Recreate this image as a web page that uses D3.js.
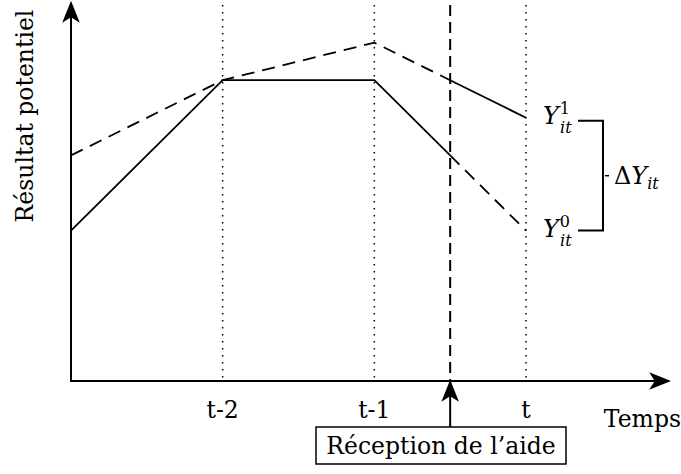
<!DOCTYPE html>
<html>
<head>
<meta charset="utf-8">
<script src="https://cdn.jsdelivr.net/npm/d3@7"></script>
<style>
  body { margin: 0; background: #fff; }
  text { font-family: "DejaVu Serif", serif; fill: #000; }
</style>
</head>
<body>
<script>
// periods on the time axis (0 = origin)
var periods = [0, 1, 2, 3];
var periodLabels = ['', 't-2', 't-1', 't'];
var aidTime = 2.5;

// potential outcome paths
var pathLow = [4, 8, 8, 4];   // solid before the aid, dashed after
var pathHigh = [6, 8, 9, 7];  // dashed before the aid, solid after

var width = 681, height = 474;
var svg = d3.select('body').append('svg').attr('width', width).attr('height', height);

var x = d3.scaleLinear().domain([0, 3]).range([71, 526]);
var y = d3.scaleLinear().domain([0, 10]).range([381, 5]);

// arrow marker
var defs = svg.append('defs');
defs.append('marker')
    .attr('id', 'arr')
    .attr('viewBox', '0 0 20 20')
    .attr('refX', 18).attr('refY', 10)
    .attr('markerWidth', 22).attr('markerHeight', 22)
    .attr('markerUnits', 'userSpaceOnUse')
    .attr('orient', 'auto')
    .append('path')
    .attr('d', 'M0,2 L20,10 L0,18 L5,10 Z')
    .attr('fill', '#000');

// dotted guides at each period
svg.selectAll('.guide').data(periods.slice(1)).enter().append('line')
    .attr('x1', function(d) { return x(d); }).attr('x2', function(d) { return x(d); })
    .attr('y1', y(10)).attr('y2', y(0))
    .attr('stroke', '#000').attr('stroke-width', 1.5)
    .attr('stroke-dasharray', '1.5 5.5');

// dashed line for the aid
svg.append('line')
    .attr('x1', x(aidTime)).attr('x2', x(aidTime))
    .attr('y1', y(10)).attr('y2', y(0))
    .attr('stroke', '#000').attr('stroke-width', 2)
    .attr('stroke-dasharray', '11 6');

function interp(arr, t) {
    var i = Math.floor(t), f = t - i;
    return arr[i] + (arr[i + 1] - arr[i]) * f;
}

function segPoints(arr, t0, t1) {
    var pts = [[t0, interp(arr, t0)]];
    periods.forEach(function(p) { if (p > t0 && p < t1) pts.push([p, arr[p]]); });
    pts.push([t1, t1 === 3 ? arr[3] : interp(arr, t1)]);
    return pts;
}

var line = d3.line().x(function(d) { return x(d[0]); }).y(function(d) { return y(d[1]); });

function drawPath(pts, dashed) {
    svg.append('path')
        .attr('d', line(pts))
        .attr('fill', 'none')
        .attr('stroke', '#000')
        .attr('stroke-width', 1.8)
        .attr('stroke-dasharray', dashed ? '13 8' : null);
}

drawPath(segPoints(pathLow, 0, aidTime), false);
drawPath(segPoints(pathLow, aidTime, 3), true);
drawPath(segPoints(pathHigh, 0, aidTime), true);
drawPath(segPoints(pathHigh, aidTime, 3), false);

// axes
svg.append('line')
    .attr('x1', x(0)).attr('y1', y(0)).attr('x2', 669).attr('y2', y(0))
    .attr('stroke', '#000').attr('stroke-width', 2).attr('marker-end', 'url(#arr)');
svg.append('line')
    .attr('x1', x(0)).attr('y1', y(0) + 1).attr('x2', x(0)).attr('y2', 3)
    .attr('stroke', '#000').attr('stroke-width', 2).attr('marker-end', 'url(#arr)');

var fs = '23.5px';

// period labels
svg.selectAll('.plab').data(periods.slice(1)).enter().append('text')
    .attr('x', function(d) { return x(d); })
    .attr('y', 418)
    .attr('text-anchor', 'middle')
    .style('font-size', fs)
    .text(function(d) { return periodLabels[d]; });

svg.append('text').attr('x', 681).attr('y', 427).attr('text-anchor', 'end')
    .style('font-size', fs).text('Temps');

svg.append('text')
    .attr('transform', 'translate(33,116) rotate(-90)')
    .attr('text-anchor', 'middle')
    .style('font-size', fs)
    .text('Résultat potentiel');

// reception box and arrow
svg.append('line')
    .attr('x1', x(aidTime)).attr('y1', 427).attr('x2', x(aidTime)).attr('y2', y(0) + 1)
    .attr('stroke', '#000').attr('stroke-width', 2).attr('marker-end', 'url(#arr)');
svg.append('rect')
    .attr('x', 316).attr('y', 427).attr('width', 250).attr('height', 37)
    .attr('fill', 'none').attr('stroke', '#000').attr('stroke-width', 1.5);
svg.append('text').attr('x', 441).attr('y', 454).attr('text-anchor', 'middle')
    .style('font-size', fs).text('Réception de l\u2019aide');

// outcome labels
function outcomeLabel(val, sup) {
    var t = svg.append('text').attr('x', 543).attr('y', y(val) + 6)
        .style('font-size', '24px').style('font-style', 'italic');
    t.append('tspan').text('Y');
    t.append('tspan').attr('dx', 1).attr('dy', -10).style('font-size', '16px').style('font-style', 'normal').text('' + sup);
    t.append('tspan').attr('dx', -10).attr('dy', 19).style('font-size', '16px').text('it');
}
outcomeLabel(pathHigh[3], 1);
outcomeLabel(pathLow[3], 0);

// bracket
var yTop = y(pathHigh[3]) + 3, yBot = y(pathLow[3]);
svg.append('path')
    .attr('d', 'M578,' + yTop + 'H603V' + yBot + 'H578')
    .attr('fill', 'none').attr('stroke', '#000').attr('stroke-width', 2);
svg.append('line')
    .attr('x1', 605).attr('x2', 609).attr('y1', (yTop + yBot) / 2).attr('y2', (yTop + yBot) / 2)
    .attr('stroke', '#000').attr('stroke-width', 1.5);
var dl = svg.append('text').attr('x', 614).attr('y', (yTop + yBot) / 2 + 8).style('font-size', '24px');
dl.append('tspan').text('\u0394');
dl.append('tspan').style('font-style', 'italic').text('Y');
dl.append('tspan').attr('dy', 5).style('font-size', '16px').style('font-style', 'italic').text('it');
</script>
</body>
</html>
